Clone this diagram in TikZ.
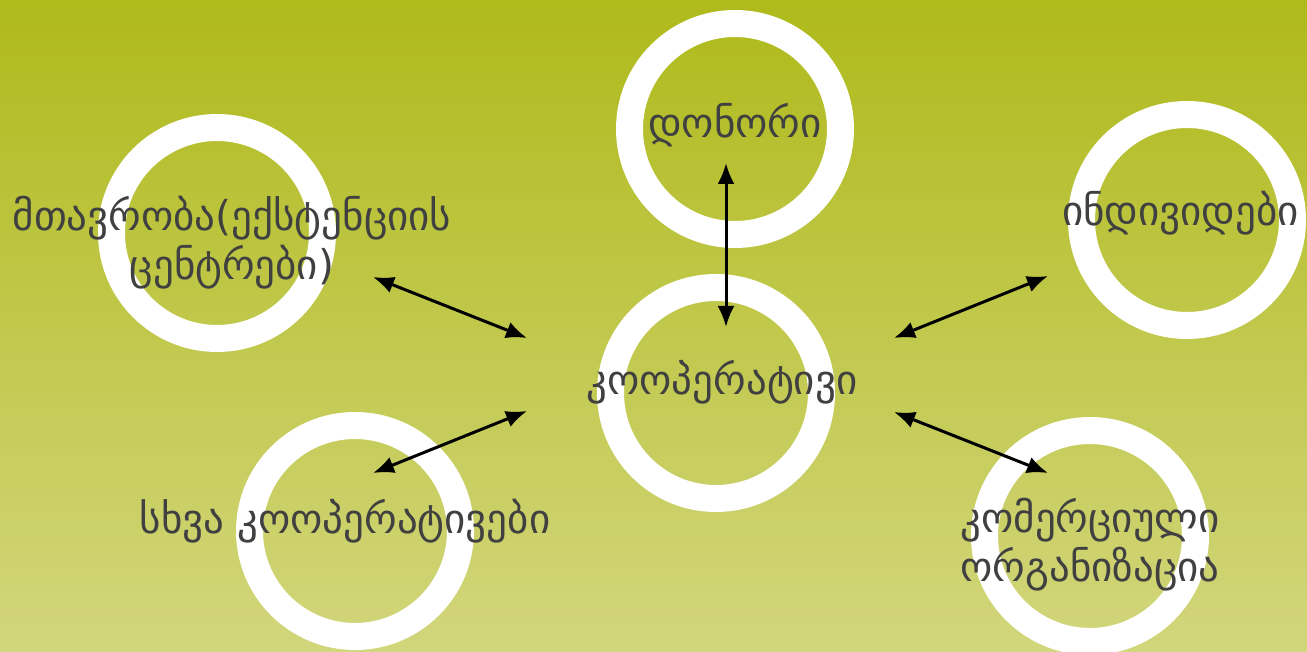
\documentclass[tikz,border=0pt]{standalone}
\usepackage{fontspec}
\newfontfamily\geofont{DejaVu Sans}
\usetikzlibrary{arrows.meta}
\definecolor{bgtop}{HTML}{AFBA1B}
\definecolor{bgbot}{HTML}{D2D67C}
\definecolor{txt}{HTML}{404040}
\tikzset{
  ring/.style={circle, draw=white, line width=27pt, minimum size=211pt, inner sep=0pt},
  lbl/.style={text=txt, font=\geofont\fontsize{41}{49}\selectfont, align=center, inner sep=0pt},
  link/.style={line width=3pt, {Latex[length=21pt,width=17pt]}-{Latex[length=21pt,width=17pt]}},
}
\begin{document}
\begin{tikzpicture}[x=1pt,y=-1pt]
\useasboundingbox (0,0) rectangle (1307,652);
\clip (0,0) rectangle (1307,652);
\shade[top color=bgtop, bottom color=bgbot] (0,0) rectangle (1307,652);
% rings
\node[ring] (rtop) at (735,129) {};
\node[ring] (rmid) at (716,393) {};
\node[ring] (rgov) at (217,233) {};
\node[ring] (rind) at (1187,220) {};
\node[ring] (roth) at (355,531) {};
\node[ring] (rcom) at (1090,536) {};
% labels
\node[lbl] (tdon) at (735,125) {დონორი};
\node[lbl] (tcoop) at (722,382) {კოოპერატივი};
\node[lbl] (tgov) at (232,243) {მთავრობა(ექსტენციის\\ცენტრები)};
\node[lbl, anchor=west] (tind) at (1062,213) {ინდივიდები};
\node[lbl] (toth) at (345,521) {სხვა კოოპერატივები};
\node[lbl] (tcom) at (1090,545) {კომერციული\\ორგანიზაცია};
% arrow end points
\coordinate (a1) at (726,163);
\coordinate (a2) at (726,327);
\coordinate (b1) at (373,277);
\coordinate (b2) at (527,338);
\coordinate (c1) at (527,411);
\coordinate (c2) at (373,473);
\coordinate (d1) at (894,338);
\coordinate (d2) at (1048,276);
\coordinate (e1) at (894,412);
\coordinate (e2) at (1048,473);
\draw[link] (a1) -- (a2);
\draw[link] (b1) -- (b2);
\draw[link] (c1) -- (c2);
\draw[link] (d1) -- (d2);
\draw[link] (e1) -- (e2);
\end{tikzpicture}
\end{document}
